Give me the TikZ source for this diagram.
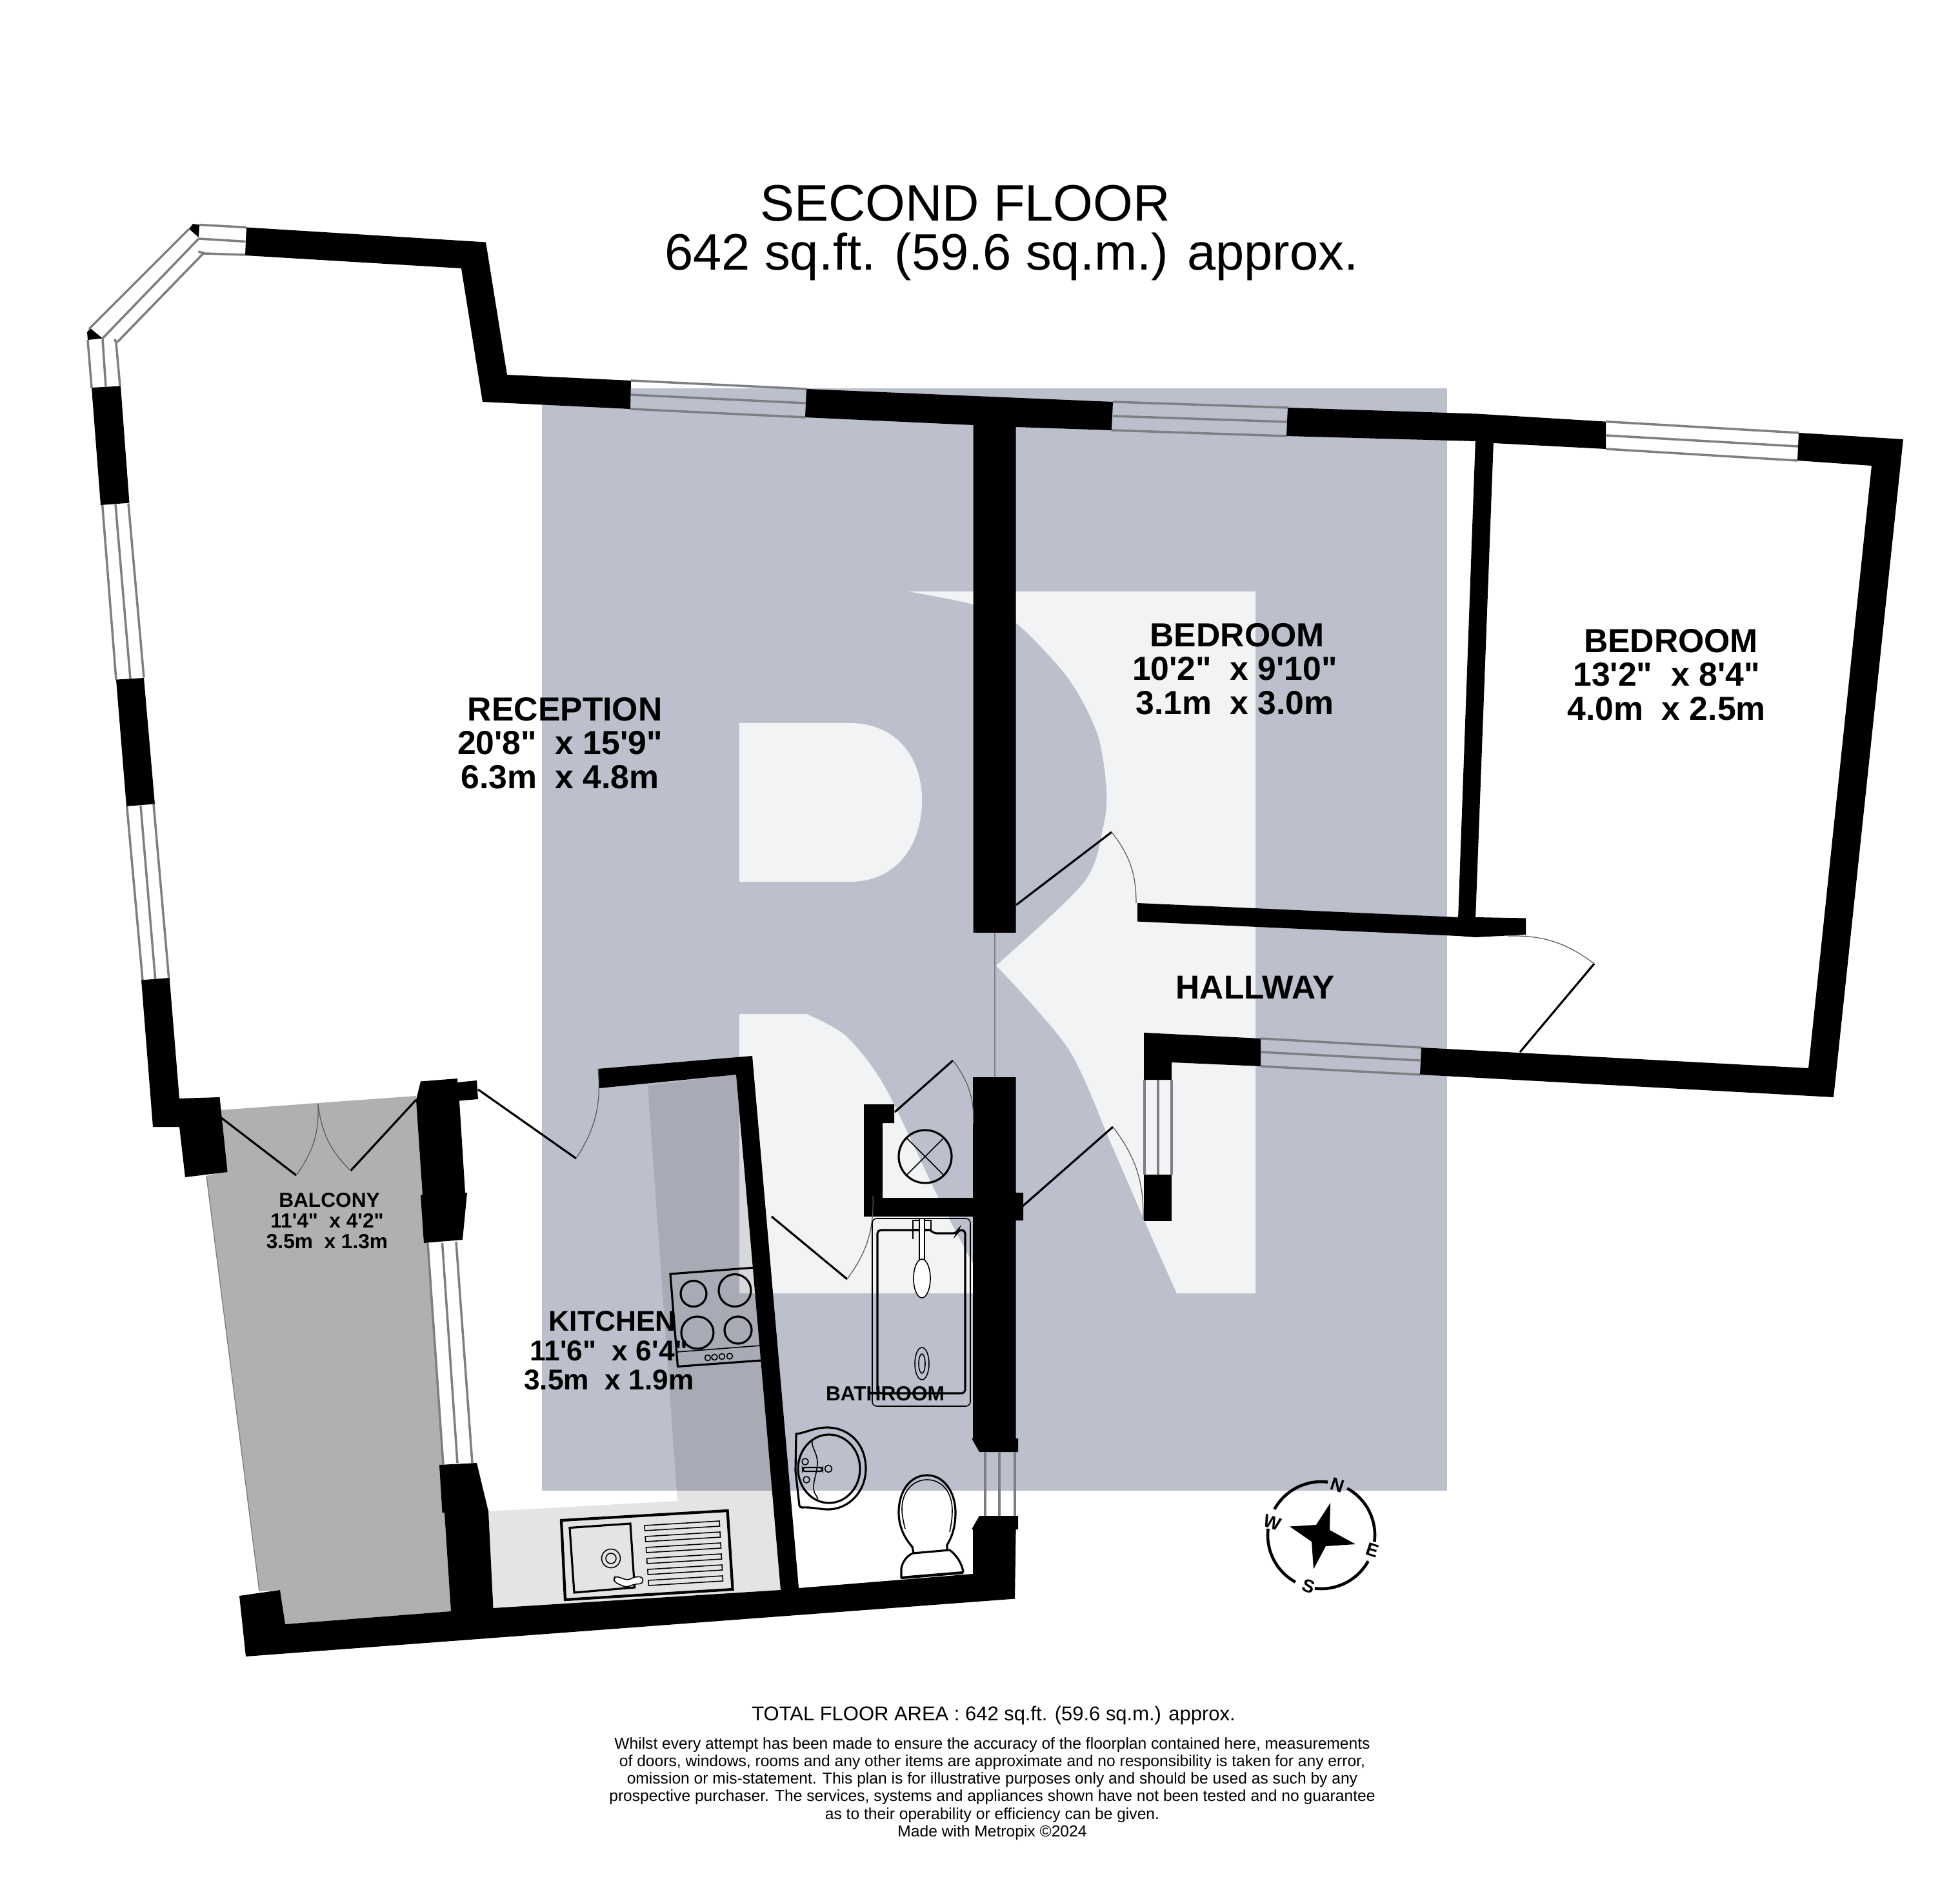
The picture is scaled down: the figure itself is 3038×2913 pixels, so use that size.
\documentclass[tikz,border=0pt]{standalone}
\usepackage{fontspec}
\usepackage{xcolor}
\newfontfamily\planfont{Liberation Sans}
\definecolor{overlayblue}{HTML}{BCC0CC}
\definecolor{logolight}{HTML}{F2F3F4}
\definecolor{balconygrey}{HTML}{B0B0B0}
\definecolor{windowgrey}{HTML}{7E7F84}
\tikzset{
  wallpart/.style={fill=black},
  windowline/.style={draw=windowgrey,line width=1pt},
  doorleaf/.style={draw=black,line width=0.9pt},
  doorswing/.style={draw=black!65,line width=0.35pt},
  fixture/.style={draw=black,line width=0.9pt},
  fixturethin/.style={draw=black,line width=0.45pt},
  toplabel/.style={font=\planfont\fontsize{22.6}{24}\selectfont},
  roomlabel/.style={font=\planfont\bfseries\fontsize{14.7}{14.9}\selectfont,align=center},
  smallroomlabel/.style={font=\planfont\bfseries\fontsize{9}{9.1}\selectfont,align=center},
  compassletter/.style={font=\planfont\bfseries\fontsize{8}{8}\selectfont,rotate=-18,inner sep=0pt},
}

\begin{document}
\begin{tikzpicture}[x=0.01cm,y=-0.01cm]
    \useasboundingbox (0,0) rectangle (3038,2913);

    % Background panel and logo
    \fill[overlayblue] (840,602) rectangle (2243,2311);
    \fill[logolight] (1408,917) -- (1946,917) -- (1946,2005) -- (1824,2005)
        -- plot[smooth] coordinates {(1824,2005) (1775,1895) (1723,1775) (1656,1626) (1544,1497)}
        -- plot[smooth] coordinates {(1544,1497) (1680,1368) (1710,1282) (1715,1224) (1701,1138) (1656,1052) (1575,966) (1508,937) (1408,917)}
        -- cycle;
    \fill[logolight] (1146,1121) -- (1317,1121) .. controls (1390,1121) and (1429,1175) .. (1429,1240)
        .. controls (1429,1310) and (1390,1367) .. (1317,1367) -- (1146,1367) -- cycle;
    \fill[logolight] (1146,1572) -- (1250,1572)
        -- plot[smooth] coordinates {(1250,1572) (1311,1606) (1371,1684) (1453,1854) (1507,1957) (1535,2005)}
        -- (1146,2005) -- cycle;

    % Kitchen worktop shade
    \fill[black,opacity=0.106] (1004,1683) -- (1141,1666) -- (1210,2465) -- (764,2493) -- (756,2343) -- (1050,2327) -- cycle;

    % Balcony
    \fill[balconygrey] (320,1823) -- (352,1815) -- (340,1721) -- (645,1699) -- (663,1927) -- (687,2271) -- (699,2498) -- (442,2518) -- (434,2465) -- (402,2467) -- cycle;
    \draw[windowgrey,line width=0.4pt] (320,1823) -- (402,2467);

    % Walls: reception
    \fill[wallpart] (382,352.5) -- (753,375.5) -- (786,581) -- (978,590) -- (977,634) -- (748,623) -- (715,416) -- (380,396) -- cycle;
    \fill[wallpart] (1250,603) -- (1725,623) -- (1723,667) -- (1574.6,662) -- (1574.6,1446) -- (1508.6,1446) -- (1508.6,659) -- (1248,647) -- cycle;
    \fill[wallpart] (299,347) -- (309,348.5) -- (308,368) -- (293,355) -- cycle;
    \fill[wallpart] (140,509) -- (159,524.5) -- (136,527) -- (135,515) -- cycle;
    \fill[wallpart] (142,601) -- (187,598.5) -- (200.5,779.6) -- (156,783) -- cycle;
    \fill[wallpart] (180,1053.6) -- (223,1051) -- (240,1246.4) -- (196,1250) -- cycle;
    \fill[wallpart] (219,1519.4) -- (262.7,1516) -- (278,1703) -- (340.5,1701) -- (352.6,1817) -- (287,1825) -- (278,1747) -- (237,1747) -- cycle;

    % Walls: bedroom
    \fill[wallpart] (1996,632) -- (2289,641.5) -- (2489,653.6) -- (2489,696) -- (2315,687) -- (2287,684) -- (1994,676) -- cycle;
    \fill[wallpart] (2287,680) -- (2315,683) -- (2287,1425) -- (2260,1425) -- cycle;
    \fill[wallpart] (2788,671) -- (2950,681) -- (2842,1701) -- (2201,1666) -- (2203,1624) -- (2803,1656) -- (2901,722) -- (2786,714) -- cycle;

    % Walls: hallway
    \fill[wallpart] (1763,1400) -- (2260,1422) -- (2287,1422) -- (2365,1423.5) -- (2365,1449) -- (2287,1453) -- (2260,1451) -- (1763,1428.6) -- cycle;
    \fill[wallpart] (1773,1601) -- (1954,1610) -- (1954,1653) -- (1816,1647) -- (1816,1674) -- (1773,1674) -- cycle;
    \fill[wallpart] (1773,1821) rectangle (1816,1893);

    % Walls: bathroom and cupboard
    \fill[wallpart] (1508,1670) -- (1574.6,1670) -- (1574.6,1849) -- (1586,1849) -- (1586,1892) -- (1574.6,1892) -- (1574.6,2230)
        -- (1578,2230) -- (1578,2251) -- (1518,2251) -- (1506,2230) -- (1508,2230) -- (1508,1886) -- (1339,1886) -- (1339,1712)
        -- (1386,1712) -- (1386,1741) -- (1368,1741) -- (1368,1857) -- (1508,1857) -- cycle;

    % Walls: outer south side and kitchen
    \fill[wallpart] (1518,2350) -- (1578,2350) -- (1578,2371) -- (1574.6,2371) -- (1573,2478.6) -- (381,2568) -- (371,2474) -- (434,2465)
        -- (442,2518) -- (699,2498) -- (689,2345) -- (685.5,2345) -- (681,2271) -- (739,2268) -- (757,2343) -- (764.5,2493) -- (1210,2465)
        -- (1141,1666) -- (929,1687) -- (927,1657) -- (1166,1637) -- (1238,2462) -- (1508,2440) -- (1508,2371) -- (1506,2371) -- cycle;
    \fill[wallpart] (652,1676.5) -- (709,1672) -- (709,1678) -- (739,1675) -- (741,1704) -- (712,1706.5) -- (721,1849) -- (724,1849)
        -- (717,1922) -- (657,1927) -- (652,1853) -- (655,1852) -- (645,1705) -- cycle;

    % Windows: bay
    \draw[windowline] (309,348.5) -- (382,352.5);
    \draw[windowline] (308,370) -- (380.6,374.5);
    \draw[windowline] (307.6,390) -- (317,393) -- (379.6,395);
    \draw[windowline] (293,355) -- (138,510);
    \draw[windowline] (308,370) -- (159,524.5);
    \draw[windowline] (317,391) -- (181.6,530.6);
    \draw[windowline] (136,527) -- (142,601);
    \draw[windowline] (159,525.5) -- (164,599.5);
    \draw[windowline] (178,525.5) -- (180,532) -- (186,598.5);
    \draw[windowline] (158.7,783) -- (180,1054);
    \draw[windowline] (179,782) -- (202,1052);
    \draw[windowline] (199,780.6) -- (223,1050.5);
    \draw[windowline] (196.7,1250) -- (221,1519);
    \draw[windowline] (218,1249) -- (240.7,1518);
    \draw[windowline] (238,1246) -- (261.7,1516);

    % Windows: north side
    \draw[windowline] (978,590) -- (1250,603);
    \draw[windowline] (978,612) -- (1249,625);
    \draw[windowline] (977,634) -- (1248,647);
    \draw[windowline] (1725,623) -- (1996,632);
    \draw[windowline] (1725,645) -- (1995,654);
    \draw[windowline] (1723,667) -- (1994,676);
    \draw[windowline] (2489,653.6) -- (2788,671);
    \draw[windowline] (2489,675) -- (2787,692);
    \draw[windowline] (2489,696) -- (2786,714);

    % Windows: hallway, kitchen, bathroom
    \draw[windowline] (1954,1610) -- (2203,1624);
    \draw[windowline] (1954,1631) -- (2201,1644);
    \draw[windowline] (1954,1653) -- (2201,1666);
    \draw[windowline] (1774,1674) -- (1774,1821);
    \draw[windowline] (1795,1674) -- (1795,1821);
    \draw[windowline] (1816,1674) -- (1816,1821);
    \draw[windowline] (663,1927) -- (687,2271);
    \draw[windowline] (685.5,1927) -- (709,2268);
    \draw[windowline] (707,1925) -- (732,2268);
    \draw[windowline] (1527,2251) -- (1527,2350);
    \draw[windowline] (1549,2251) -- (1549,2350);
    \draw[windowline] (1573,2251) -- (1573,2350);
    \draw[windowgrey,line width=0.4pt] (1542,1446) -- (1542,1670);

    % Doors
    \draw[doorleaf] (1575,1403) -- (1723,1290);
    \draw[doorswing] (1723,1290) to[bend left=19] (1761,1400);
    \draw[doorleaf] (2356,1631) -- (2471,1494);
    \draw[doorswing] (2337,1451) to[bend left=19] (2471,1494);
    \draw[doorleaf] (1585,1870) -- (1725,1747);
    \draw[doorswing] (1725,1747) to[bend left=19] (1772,1891);
    \draw[doorleaf] (1387,1724) -- (1477,1644);
    \draw[doorswing] (1477,1644) to[bend left=19] (1509,1743);
    \draw[doorleaf] (1196,1886) -- (1313,1983);
    \draw[doorswing] (1313,1983) to[bend right=19] (1353,1854);
    \draw[doorleaf] (741,1689) -- (893,1796);
    \draw[doorswing] (893,1796) to[bend right=19] (927,1657);
    \draw[doorleaf] (340.5,1731) -- (459,1822);
    \draw[doorswing] (459,1822) to[bend right=19] (493,1712);
    \draw[doorleaf] (645,1705) -- (543.5,1815);
    \draw[doorswing] (543.5,1815) to[bend left=19] (493,1712);

    % Extractor in cupboard
    \draw[fixture] (1434,1793) circle (41);
    \draw[fixturethin] (1405,1764) -- (1463,1822);
    \draw[fixturethin] (1463,1764) -- (1405,1822);

    % Shower tray
    \draw[fixturethin,rounded corners=2pt] (1352,1889) rectangle (1504,2180);
    \draw[fixture,rounded corners=1.5pt] (1442,1907) -- (1360,1907) -- (1360,2160) -- (1496,2160) -- (1496,1907) -- (1485,1907) -- (1483,1912) -- (1447,1912) -- (1442,1907);
    \draw[fixturethin] (1415,1892) rectangle (1443,1906);
    \draw[fixturethin] (1415,1906) -- (1415,1921);
    \fill[white] (1425,1890) rectangle (1433,1953);
    \draw[fixturethin] (1425,1890) -- (1425,1953);
    \draw[fixturethin] (1433,1890) -- (1433,1953);
    \draw[fixturethin,fill=white] (1429,1982) ellipse [x radius=13,y radius=30];
    \draw[fixturethin] (1429,2114) ellipse [x radius=11,y radius=25];
    \draw[fixturethin] (1429,2114) ellipse [x radius=5,y radius=15];

    % Kitchen sink
    \draw[fixture,line width=1.2pt] (870,2357) -- (1127.6,2342) -- (1135.6,2464) -- (876,2480) -- cycle;
    \draw[fixture] (883,2368.5) -- (977,2362) -- (983.6,2461) -- (890,2469) -- cycle;
    \draw[fixturethin] (999,2365) -- (1115,2358) -- (1115.5,2366) -- (999.5,2373) -- cycle;
    \draw[fixturethin] (1000.2,2382) -- (1116,2375) -- (1116.5,2383) -- (1000.7,2390) -- cycle;
    \draw[fixturethin] (1001.4,2399) -- (1117,2392) -- (1117.5,2400) -- (1001.9,2407) -- cycle;
    \draw[fixturethin] (1002.6,2416) -- (1118,2409) -- (1118.5,2417) -- (1003.1,2424) -- cycle;
    \draw[fixturethin] (1003.8,2433) -- (1119,2426) -- (1119.5,2434) -- (1004.3,2441) -- cycle;
    \draw[fixturethin] (1005,2450) -- (1120,2443) -- (1120.5,2451) -- (1005.5,2458) -- cycle;
    \draw[fixturethin] (947,2416) circle (14.5);
    \draw[fixturethin] (947,2416) circle (8);
    \draw[fixturethin,fill=white,rounded corners=1.5] (953,2443) -- (974,2450) -- (982,2445) -- (996,2444) -- (997,2455) -- (983,2456) -- (970,2461) -- (951,2452) -- cycle;

    % Hob
    \draw[fixture] (1039,1975) -- (1171,1965) -- (1181,2109) -- (1050.5,2118.5) -- cycle;
    \draw[fixturethin] (1049,2096) -- (1179,2086);
    \draw[fixture] (1075,2005.6) circle (20);
    \draw[fixture] (1139,2000.5) circle (25);
    \draw[fixture] (1081,2066) circle (25);
    \draw[fixture] (1144,2062) circle (21);
    \draw[fixturethin] (1097,2105) circle (4.5);
    \draw[fixturethin] (1107.5,2104) circle (4.5);
    \draw[fixturethin] (1119,2103) circle (4.5);
    \draw[fixturethin] (1131,2102.5) circle (4.5);

    % Bathroom basin
    \draw[fixture] (1234,2223) .. controls (1250,2221) and (1262,2213) .. (1283,2213)
        .. controls (1318,2214) and (1342,2240) .. (1342,2277)
        .. controls (1342,2312) and (1316,2340) .. (1283,2340)
        .. controls (1270,2340) and (1258,2336) .. (1243,2337) .. controls (1241,2337) and (1240,2336) .. (1239,2334) -- (1233,2280) -- cycle;
    \draw[fixture] (1285,2277) ellipse [x radius=48,y radius=53];
    \draw[fixturethin] (1260,2232) .. controls (1255,2240) and (1267,2252) .. (1267,2267) .. controls (1267,2285) and (1258,2300) .. (1262,2313) -- (1268,2324);
    \draw[fixturethin] (1284,2277) circle (5.5);
    \draw[fixturethin] (1248,2266) circle (5);
    \draw[fixturethin] (1250,2294) circle (5);
    \draw[fixturethin,line width=0.7pt,rounded corners=1pt] (1244,2275) rectangle (1275,2281);

    % Toilet
    \draw[fixture] (1416,2407) -- (1414,2398) .. controls (1405,2388) and (1393,2370) .. (1393,2345)
        .. controls (1393,2310) and (1412,2287) .. (1437,2287)
        .. controls (1462,2287) and (1481,2312) .. (1481,2345)
        .. controls (1481,2370) and (1474,2385) .. (1468,2395) -- (1468,2403);
    \draw[fixturethin] (1403,2370) .. controls (1399,2355) and (1398,2345) .. (1398,2340)
        .. controls (1398,2312) and (1415,2294) .. (1437,2294)
        .. controls (1459,2294) and (1476,2312) .. (1476,2342)
        .. controls (1476,2355) and (1474,2365) .. (1472,2375);
    \draw[fixture] (1397,2447) -- (1397,2432) .. controls (1398,2425) and (1403,2413) .. (1415,2408) -- (1472,2403)
        .. controls (1482,2410) and (1492,2425) .. (1493,2438);
    \draw[fixture,line width=1.2pt] (1397,2446) -- (1493,2438);

    % Compass
    \draw[line width=1.3pt] (2048,2380) ++(-61:83) arc[start angle=-61,end angle=7,radius=83];
    \draw[line width=1.3pt] (2048,2380) ++(29:83) arc[start angle=29,end angle=97,radius=83];
    \draw[line width=1.3pt] (2048,2380) ++(119:83) arc[start angle=119,end angle=187,radius=83];
    \draw[line width=1.3pt] (2048,2380) ++(209:83) arc[start angle=209,end angle=277,radius=83];
    \fill (2062,2330) -- (2061,2372) -- (2101,2394) -- (2055,2397) -- (2036,2432.6) -- (2033,2390) -- (1999,2366.5) -- (2040,2364) -- cycle;
    \node[compassletter] (compassN) at (2073,2302) {N};
    \node[compassletter] (compassE) at (2127,2403.6) {E};
    \node[compassletter] (compassS) at (2028.6,2459) {S};
    \node[compassletter] (compassW) at (1972.5,2360) {W};

    % Headings
    \node[toplabel] (floorname) at (1496,315) {SECOND FLOOR};
    \node[toplabel] (floorarea) at (1568,398) {642 sq.ft. (59.6 sq.m.) approx.};

    % Room labels
    \node[roomlabel] (reception) at (868,1152) {\hspace*{4.4pt}RECEPTION\\20'8"~ x 15'9"\\6.3m~ x 4.8m};
    \node[roomlabel] (bedroomone) at (1914,1037) {\hspace*{2pt}BEDROOM\\10'2"~ x 9'10"\\3.1m~ x 3.0m};
    \node[roomlabel] (bedroomtwo) at (2583,1046) {\hspace*{4pt}BEDROOM\\13'2"~ x 8'4"\\4.0m~ x 2.5m};
    \node[roomlabel,font=\planfont\bfseries\fontsize{14.6}{14.6}\selectfont] (hallway) at (1946,1531) {HALLWAY};
    \node[roomlabel,font=\planfont\bfseries\fontsize{12.6}{12.9}\selectfont] (kitchen) at (944,2094) {\hspace*{3pt}KITCHEN\\11'6"~ x 6'4"\\3.5m~ x 1.9m};
    \node[smallroomlabel] (balcony) at (507,1893) {\hspace*{2pt}BALCONY\\11'4"~ x 4'2"\\3.5m~ x 1.3m};
    \node[roomlabel,font=\planfont\bfseries\fontsize{9}{9}\selectfont] (bathroom) at (1372,2161) {BATHROOM};

    % Footer
    \node[font=\planfont\fontsize{8.8}{8.8}\selectfont] (totalarea) at (1540,2659) {TOTAL FLOOR AREA : 642 sq.ft. (59.6 sq.m.) approx.};
    \node[font=\planfont\fontsize{7}{7.74}\selectfont,align=center] (disclaimer) at (1538,2773) {Whilst every attempt has been made to ensure the accuracy of the floorplan contained here, measurements\\of doors, windows, rooms and any other items are approximate and no responsibility is taken for any error,\\omission or mis-statement. This plan is for illustrative purposes only and should be used as such by any\\prospective purchaser. The services, systems and appliances shown have not been tested and no guarantee\\as to their operability or efficiency can be given.\\Made with Metropix \textcopyright2024};

\end{tikzpicture}
\end{document}
